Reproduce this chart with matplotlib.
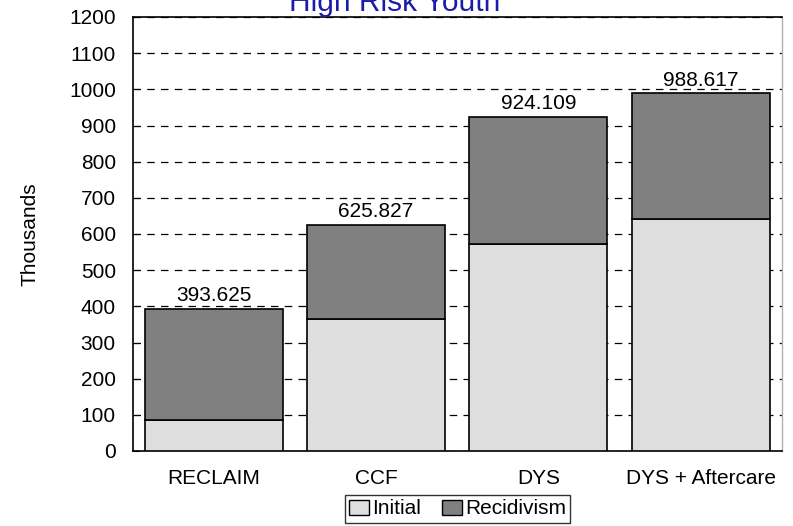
import matplotlib
matplotlib.use("Agg")
import matplotlib.pyplot as plt
from matplotlib.patches import Patch

categories = ["RECLAIM", "CCF", "DYS", "DYS + Aftercare"]
initial = [85, 365, 571, 641]
totals = [393.625, 625.827, 924.109, 988.617]
recidivism = [t - i for t, i in zip(totals, initial)]
total_labels = ["393.625", "625.827", "924.109", "988.617"]
yticks = list(range(0, 1300, 100))

plt.rcParams['font.family'] = ['Liberation Sans', 'DejaVu Sans']
FS = 15

fig = plt.figure(figsize=(7.93, 5.26), dpi=100)
W, H = 793, 526
ax = fig.add_axes([132.5 / W, 1 - 451 / H, (782 - 132.5) / W, (451 - 17) / H])

x = list(range(len(categories)))
c_init = "#dedede"
c_rec = "#808080"
ax.bar(x, initial, width=0.85, color=c_init, edgecolor="black", linewidth=1.2, zorder=3)
ax.bar(x, recidivism, bottom=initial, width=0.85, color=c_rec, edgecolor="black", linewidth=1.2, zorder=3)
for xi, t, lab in zip(x, totals, total_labels):
    ax.text(xi, t + 10, lab, ha="center", va="bottom", fontsize=FS, zorder=4)

ax.set_xlim(-0.5, len(categories) - 0.5)
ax.set_ylim(0, 1200)
ax.set_yticks(yticks)
ax.set_yticklabels([str(v) for v in yticks], fontsize=FS)
ax.set_xticks(x)
ax.set_xticklabels(categories, fontsize=FS)
ax.tick_params(axis="x", length=0, pad=13)
ax.tick_params(axis="y", length=4, direction="in", pad=12)
ax.yaxis.grid(True, linestyle=(0, (6, 5)), color="black", linewidth=0.9, zorder=0)
ax.set_axisbelow(True)
for s in ["left", "bottom", "top"]:
    ax.spines[s].set_color("black")
    ax.spines[s].set_linewidth(1.2)
ax.spines["right"].set_color("#b0b0b0")
ax.spines["right"].set_linewidth(1.0)
ax.set_ylabel("Thousands", fontsize=FS)
ax.yaxis.set_label_coords(-(132.5 - 39) / (782 - 132.5), 0.5)

fig.text(395 / W, 1 - 3 / H, "High Risk Youth", ha="center", va="center", fontsize=21.5, color="#1c1ca8")

handles = [Patch(facecolor=c_init, edgecolor="black", label="Initial"),
           Patch(facecolor=c_rec, edgecolor="black", label="Recidivism")]
leg = fig.legend(handles=handles, loc="center", bbox_to_anchor=(457.5 / W, 1 - 509 / H), ncol=2,
                 fontsize=FS, frameon=True, fancybox=False, handlelength=0.95, handleheight=0.75,
                 handletextpad=0.15, columnspacing=1.0, borderpad=0.2, borderaxespad=0)
leg._legend_box.sep = 0
leg.get_frame().set_edgecolor("black")
leg.get_frame().set_linewidth(1.0)

fig.savefig("out.png", dpi=100)
